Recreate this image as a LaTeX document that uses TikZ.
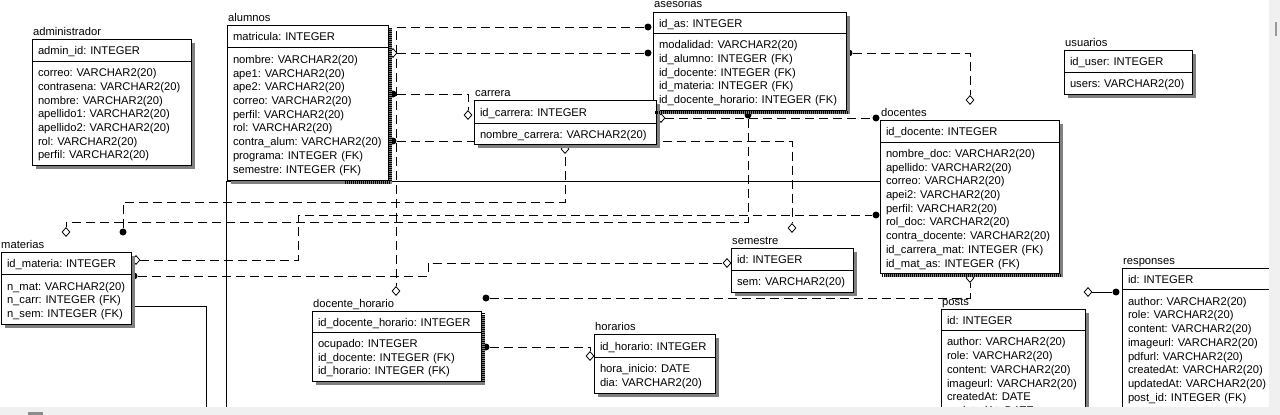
\documentclass[tikz,border=0pt]{standalone}
\usepackage{fontspec}
\setmainfont{Liberation Sans}
\usetikzlibrary{shapes.geometric,shadows}
\pgfdeclarelayer{background}
\pgfsetlayers{background,main}
\setlength{\parindent}{0pt}
\frenchspacing
\newcommand{\fields}[1]{\raisebox{0pt}[\dimexpr\height+4pt\relax][\depth]{\begin{tabular}{@{}l@{}}#1\end{tabular}}}

\begin{document}
\begin{tikzpicture}[x=1pt,y=-1pt,
    font=\fontsize{11.2}{13.7}\selectfont,
    tbl/.style={draw,fill=white,line width=1,anchor=north west,inner xsep=6,inner ysep=0,outer sep=0,align=left,
      drop shadow={shadow xshift=3.5,shadow yshift=3.5,fill=black!50,opacity=1}},
    hd/.style={tbl,minimum height=22},
    lb/.style={anchor=base west,inner sep=0,xshift=1,yshift=4},
    rel/.style={line width=1,dash pattern=on 9 off 5},
    idf/.style={line width=1},
    dot/.style={circle,fill,inner sep=0,minimum size=7},
    opt/.style={diamond,draw,fill=white,line width=0.8,inner sep=0,minimum width=8,minimum height=9},
    busy/.style={line width=3,dash pattern=on 1 off 1}]
      \useasboundingbox (0,0) rectangle (1280,415);
      \clip (0,0) rectangle (1280,415);

      \node[hd,text width=147] (administrador) at (32,39) {\fields{admin\_id: INTEGER}};
      \node[tbl,text width=147,minimum height=104] (administrador-b) at (administrador.south west)
        {\fields{correo: VARCHAR2(20)\\contrasena: VARCHAR2(20)\\nombre: VARCHAR2(20)\\apellido1: VARCHAR2(20)\\apellido2: VARCHAR2(20)\\rol: VARCHAR2(20)\\perfil: VARCHAR2(20)}};
      \node[lb] (administrador-l) at (administrador.north west) {administrador};

      \node[hd,text width=149] (alumnos) at (227,25) {\fields{matricula: INTEGER}};
      \node[tbl,text width=149,minimum height=133] (alumnos-b) at (alumnos.south west)
        {\fields{nombre: VARCHAR2(20)\\ape1: VARCHAR2(20)\\ape2: VARCHAR2(20)\\correo: VARCHAR2(20)\\perfil: VARCHAR2(20)\\rol: VARCHAR2(20)\\contra\_alum: VARCHAR2(20)\\programa: INTEGER (FK)\\semestre: INTEGER (FK)}};
      \node[lb] (alumnos-l) at (alumnos.north west) {alumnos};

      \node[hd,text width=181,minimum height=21] (asesorias) at (653,12) {\fields{id\_as: INTEGER}};
      \node[tbl,text width=181,minimum height=77] (asesorias-b) at (asesorias.south west)
        {\fields{modalidad: VARCHAR2(20)\\id\_alumno: INTEGER (FK)\\id\_docente: INTEGER (FK)\\id\_materia: INTEGER (FK)\\id\_docente\_horario: INTEGER (FK)}};
      \node[lb] (asesorias-l) at (asesorias.north west) {asesorias};

      \node[hd,text width=170,minimum height=23] (carrera) at (474,100) {\fields{id\_carrera: INTEGER}};
      \node[tbl,text width=170,minimum height=21] (carrera-b) at (carrera.south west) {\fields{nombre\_carrera: VARCHAR2(20)}};
      \node[lb] (carrera-l) at (carrera.north west) {carrera};

      \node[hd,text width=167] (docentes) at (880,120) {\fields{id\_docente: INTEGER}};
      \node[tbl,text width=167,minimum height=131] (docentes-b) at (docentes.south west)
        {\fields{nombre\_doc: VARCHAR2(20)\\apellido: VARCHAR2(20)\\correo: VARCHAR2(20)\\apei2: VARCHAR2(20)\\perfil: VARCHAR2(20)\\rol\_doc: VARCHAR2(20)\\contra\_docente: VARCHAR2(20)\\id\_carrera\_mat: INTEGER (FK)\\id\_mat\_as: INTEGER (FK)}};
      \node[lb] (docentes-l) at (docentes.north west) {docentes};

      \node[hd,text width=116] (usuarios) at (1064,50) {\fields{id\_user: INTEGER}};
      \node[tbl,text width=116,minimum height=22] (usuarios-b) at (usuarios.south west) {\fields{users: VARCHAR2(20)}};
      \node[lb] (usuarios-l) at (usuarios.north west) {usuarios};

      \node[hd,text width=118] (materias) at (1,252) {\fields{id\_materia: INTEGER}};
      \node[tbl,text width=118,minimum height=50] (materias-b) at (materias.south west)
        {\fields{n\_mat: VARCHAR2(20)\\n\_carr: INTEGER (FK)\\n\_sem: INTEGER (FK)}};
      \node[lb,xshift=-1] (materias-l) at (materias.north west) {materias};

      \node[hd,text width=157,minimum height=21] (docente_horario) at (312,311) {\fields{id\_docente\_horario: INTEGER}};
      \node[tbl,text width=157,minimum height=49] (docente_horario-b) at (docente_horario.south west)
        {\fields{ocupado: INTEGER\\id\_docente: INTEGER (FK)\\id\_horario: INTEGER (FK)}};
      \node[lb] (docente_horario-l) at (docente_horario.north west) {docente\_horario};

      \node[hd,text width=109,minimum height=23] (horarios) at (594,334) {\fields{id\_horario: INTEGER}};
      \node[tbl,text width=109,minimum height=36] (horarios-b) at (horarios.south west)
        {\fields{hora\_inicio: DATE\\dia: VARCHAR2(20)}};
      \node[lb] (horarios-l) at (horarios.north west) {horarios};

      \node[hd,text width=110] (semestre) at (731,248) {\fields{id: INTEGER}};
      \node[tbl,text width=110,minimum height=22] (semestre-b) at (semestre.south west) {\fields{sem: VARCHAR2(20)}};
      \node[lb] (semestre-l) at (semestre.north west) {semestre};

      \node[hd,text width=132,minimum height=21] (posts) at (941,309) {\fields{id: INTEGER}};
      \node[tbl,text width=132,minimum height=91] (posts-b) at (posts.south west)
        {\fields{author: VARCHAR2(20)\\role: VARCHAR2(20)\\content: VARCHAR2(20)\\imageurl: VARCHAR2(20)\\createdAt: DATE\\updatedAt: DATE}};
      \node[lb] (posts-l) at (posts.north west) {posts};

      \node[hd,text width=141,minimum height=21] (responses) at (1122,268) {\fields{id: INTEGER}};
      \node[tbl,text width=141,minimum height=119] (responses-b) at (responses.south west)
        {\fields{author: VARCHAR2(20)\\role: VARCHAR2(20)\\content: VARCHAR2(20)\\imageurl: VARCHAR2(20)\\pdfurl: VARCHAR2(20)\\createdAt: VARCHAR2(20)\\updatedAt: VARCHAR2(20)\\post\_id: INTEGER (FK)}};
      \node[lb] (responses-l) at (responses.north west) {responses};

      \begin{pgfonlayer}{background}
      \node[dot] (as-dh) at (648,27) {};
      \node[opt] (dh-as) at (396,291) {};
      \node[dot] (as-al) at (648,53) {};
      \node[opt] (al-as) at (393,53) {};
      \node[dot] (al-ca) at (393,94) {};
      \node[opt] (ca-al) at (468,115) {};
      \node[dot] (al-se) at (393,141) {};
      \node[opt] (se-al) at (792,228) {};
      \node[dot] (as-do) at (849,53) {};
      \node[opt] (do-as) at (970,100) {};
      \node[dot] (do-ca) at (876,118) {};
      \node[opt] (ca-do) at (661,118) {};
      \node[dot] (as-ma) at (748,115) {};
      \node[opt] (ma-as) at (66,232) {};
      \node[dot] (ma-ca) at (123,232) {};
      \node[opt] (ca-ma) at (565,149) {};
      \node[dot] (do-ma) at (876,215) {};
      \node[opt] (ma-do) at (136,260) {};
      \node[dot] (ma-se) at (134,276) {};
      \node[opt] (se-ma) at (727,263) {};
      \node[dot] (dh-do) at (486,298) {};
      \node[opt] (do-dh) at (970,278) {};
      \node[dot] (dh-ho) at (486,347) {};
      \node[opt] (ho-dh) at (590,356) {};
      \node[dot] (re-po) at (1116,292) {};
      \node[opt] (po-re) at (1088,292) {};
      \coordinate (do-x) at (880,181);
      \coordinate (x1) at (226,407);
      \coordinate (ma-x) at (131,306);
      \coordinate (x2) at (206,407);

      \draw[rel] (as-dh) -| (dh-as);
      \draw[rel] (al-as) -- (as-al);
      \draw[rel] (al-ca) -| (ca-al);
      \draw[rel] (al-se) -| (se-al);
      \draw[rel] (as-do) -| (do-as);
      \draw[rel] (ca-do) -- (do-ca);
      \draw[rel] (as-ma) -- ++(0,107) -| (ma-as);
      \draw[rel] (ma-ca) -- ++(0,-30) -| (ca-ma);
      \draw[rel] (ma-do) -- ++(162,0) |- (do-ma);
      \draw[rel] (ma-se) -- ++(294,0) |- (se-ma);
      \draw[rel] (dh-do) -| (do-dh);
      \draw[rel] (dh-ho) -| (ho-dh);
      \draw[idf] (po-re) -- (re-po);
      \draw[idf] (do-x) -| (x1);
      \draw[idf] (ma-x) -| (x2);
      \end{pgfonlayer}

      \draw[busy] (390,28) -- (390,182) -- (345,182);
      \draw[busy] (655,112) -- (848,112);
      \draw[busy] (483,313) -- (483,383);
      \draw[busy] (882,275) -- (1061,275);

      \fill[black!6] (0,407) rectangle (1280,415);
      \fill[black!6] (1269,0) rectangle (1280,407);
      \fill[black!40] (1275,22) rectangle (1277,36);
      \fill[black!45] (28,412) rectangle (43,415);
\end{tikzpicture}
\end{document}
